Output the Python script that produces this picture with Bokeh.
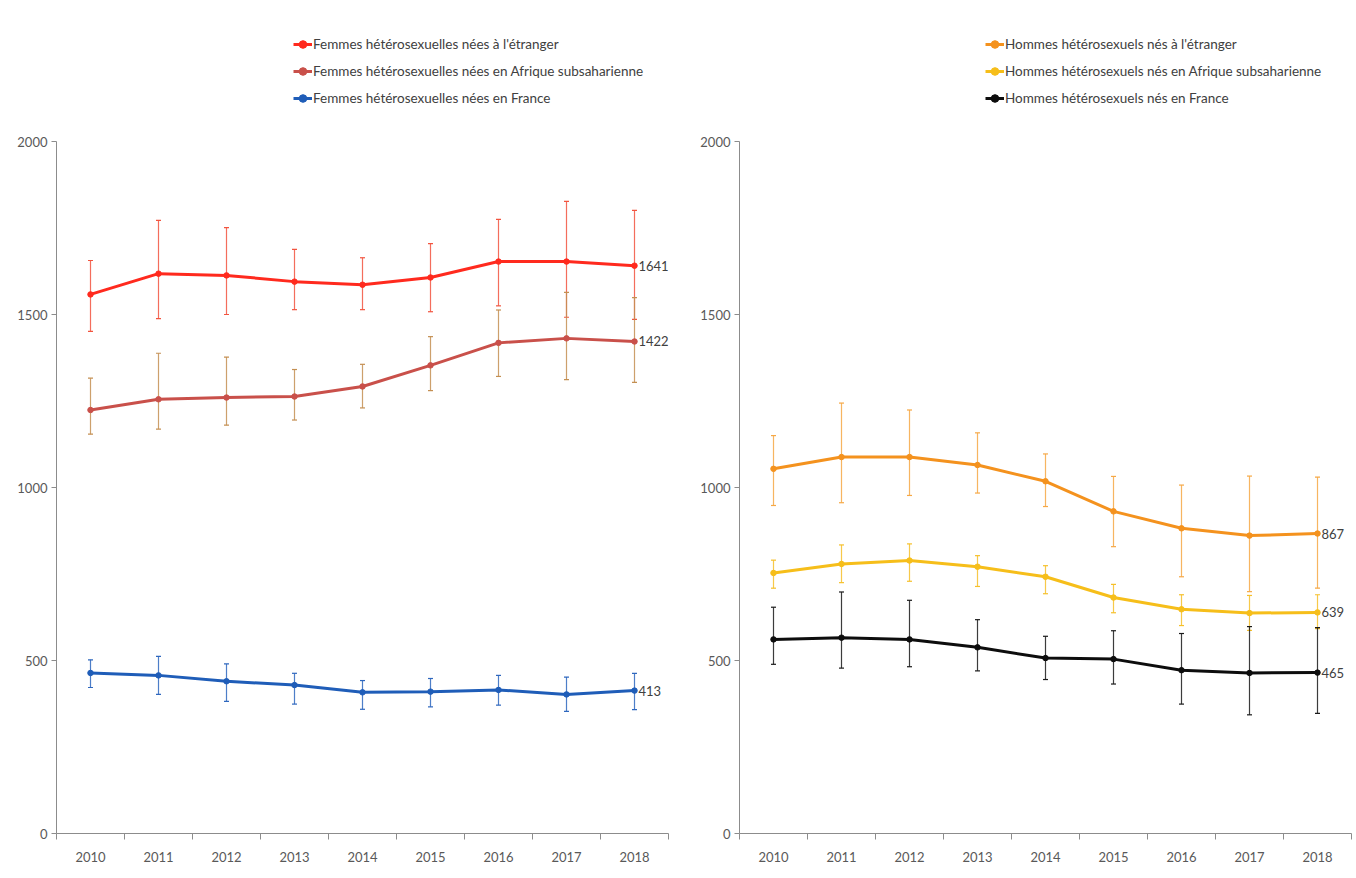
from bokeh.plotting import figure
from bokeh.models import (ColumnDataSource, Whisker, TeeHead, FixedTicker, Legend,
                          LegendItem, Range1d)
from bokeh.layouts import row
from bokeh.embed import file_html
from bokeh.resources import INLINE
from bokeh.core.properties import value

years = [2010, 2011, 2012, 2013, 2014, 2015, 2016, 2017, 2018]

# Femmes
f_etr = [1558, 1618, 1613, 1595, 1586, 1607, 1653, 1653, 1641]
f_etr_hi = [1656, 1772, 1751, 1688, 1664, 1705, 1775, 1827, 1801]
f_etr_lo = [1451, 1488, 1500, 1514, 1514, 1508, 1525, 1492, 1486]

f_afr = [1224, 1255, 1260, 1263, 1292, 1353, 1418, 1431, 1422]
f_afr_hi = [1316, 1388, 1377, 1341, 1356, 1436, 1513, 1564, 1549]
f_afr_lo = [1154, 1169, 1180, 1195, 1230, 1280, 1321, 1312, 1304]

f_fra = [464, 457, 440, 429, 408, 410, 415, 402, 413]
f_fra_hi = [502, 512, 490, 463, 442, 448, 457, 452, 463]
f_fra_lo = [422, 402, 382, 374, 359, 366, 371, 353, 358]

# Hommes
h_etr = [1054, 1088, 1088, 1065, 1018, 931, 882, 861, 867]
h_etr_hi = [1150, 1244, 1224, 1158, 1097, 1032, 1007, 1033, 1030]
h_etr_lo = [948, 956, 977, 984, 945, 829, 742, 699, 709]

h_afr = [753, 779, 789, 771, 742, 682, 648, 637, 639]
h_afr_hi = [790, 834, 837, 803, 774, 720, 690, 688, 690]
h_afr_lo = [709, 725, 729, 714, 693, 638, 601, 587, 592]

h_fra = [561, 566, 561, 538, 507, 504, 472, 464, 465]
h_fra_hi = [654, 698, 674, 618, 570, 586, 578, 598, 595]
h_fra_lo = [489, 478, 482, 470, 445, 432, 374, 343, 347]

y_ticks = [0, 500, 1000, 1500, 2000]

left_names = ["Femmes hétérosexuelles nées à l'étranger",
              "Femmes hétérosexuelles nées en Afrique subsaharienne",
              "Femmes hétérosexuelles nées en France"]
right_names = ["Hommes hétérosexuels nés à l'étranger",
               "Hommes hétérosexuels nés en Afrique subsaharienne",
               "Hommes hétérosexuels nés en France"]

FONT = "Lato"
AXIS_COLOR = "#8C8C8C"
TEXT_COLOR = "#595959"

# frame spans page y 8..833, axis 0..2000 spans y 141..833
Y_TOP = 2000 * (833 - 8) / (833 - 141)


def make_fig(width, border_left, border_right, series, legend_x):
    p = figure(width=width, height=870, x_range=Range1d(2009.5, 2018.5),
               y_range=Range1d(0, Y_TOP), output_backend="svg",
               toolbar_location=None, min_border_left=border_left,
               min_border_right=border_right, min_border_top=8,
               min_border_bottom=37)
    p.xgrid.visible = False
    p.ygrid.visible = False
    p.outline_line_color = None

    xa = p.xaxis[0]
    xa.ticker = FixedTicker(ticks=years, minor_ticks=[y - 0.5 for y in years] + [2018.5])
    xa.major_tick_line_color = None
    xa.minor_tick_in = 0
    xa.minor_tick_out = 6
    xa.minor_tick_line_color = AXIS_COLOR
    xa.axis_line_color = AXIS_COLOR
    xa.major_label_text_font = FONT
    xa.major_label_text_font_size = "13px"
    xa.major_label_text_color = TEXT_COLOR
    xa.major_label_standoff = 12

    ya = p.yaxis[0]
    ya.bounds = (0, 2000)
    ya.ticker = FixedTicker(ticks=y_ticks, minor_ticks=[])
    ya.major_tick_in = 0
    ya.major_tick_out = 5
    ya.major_tick_line_color = AXIS_COLOR
    ya.minor_tick_line_color = None
    ya.axis_line_color = AXIS_COLOR
    ya.major_label_text_font = FONT
    ya.major_label_text_font_size = "13px"
    ya.major_label_text_color = TEXT_COLOR
    ya.major_label_standoff = 4

    items = []
    for name, vals, hi, lo, color, ecolor in series:
        src = ColumnDataSource(dict(x=years, y=vals, hi=hi, lo=lo))
        w = Whisker(base="x", upper="hi", lower="lo", source=src,
                    line_color=ecolor, line_width=1.2, line_alpha=0.85,
                    upper_head=TeeHead(size=5, line_color=ecolor, line_width=1.2),
                    lower_head=TeeHead(size=5, line_color=ecolor, line_width=1.2))
        p.add_layout(w)
        lr = p.line("x", "y", source=src, line_color=color, line_width=3)
        sr = p.scatter("x", "y", source=src, size=5.5, fill_color=color,
                       line_color=color)
        items.append(LegendItem(label=name, renderers=[lr, sr]))
        p.text(x=[years[-1]], y=[vals[-1]], text=[str(vals[-1])], x_offset=4,
               text_baseline="middle", text_align="left",
               text_font=value(FONT), text_font_size="13px",
               text_color="#404040")

    legend = Legend(items=items, location=(legend_x, 725), orientation="vertical",
                    border_line_color=None, background_fill_alpha=0,
                    padding=0, margin=0, spacing=7, label_height=20,
                    glyph_height=20, glyph_width=19, label_standoff=1,
                    label_text_font=FONT, label_text_font_size="13.5px",
                    label_text_color="#404040")
    p.add_layout(legend)
    return p


left = make_fig(680, 56, 12, [
    (left_names[0], f_etr, f_etr_hi, f_etr_lo, "#FF2A1E", "#F2543F"),
    (left_names[1], f_afr, f_afr_hi, f_afr_lo, "#C9504A", "#C48F52"),
    (left_names[2], f_fra, f_fra_hi, f_fra_lo, "#1F5DB8", "#2E67BE"),
], 237)

right = make_fig(676, 59, 5, [
    (right_names[0], h_etr, h_etr_hi, h_etr_lo, "#F4921E", "#F6A845"),
    (right_names[1], h_afr, h_afr_hi, h_afr_lo, "#F6BE1A", "#F6C02A"),
    (right_names[2], h_fra, h_fra_hi, h_fra_lo, "#0D0D0D", "#1A1A1A"),
], 246)

layout = row(left, right)
open("out.html", "w").write(file_html(layout, INLINE))
